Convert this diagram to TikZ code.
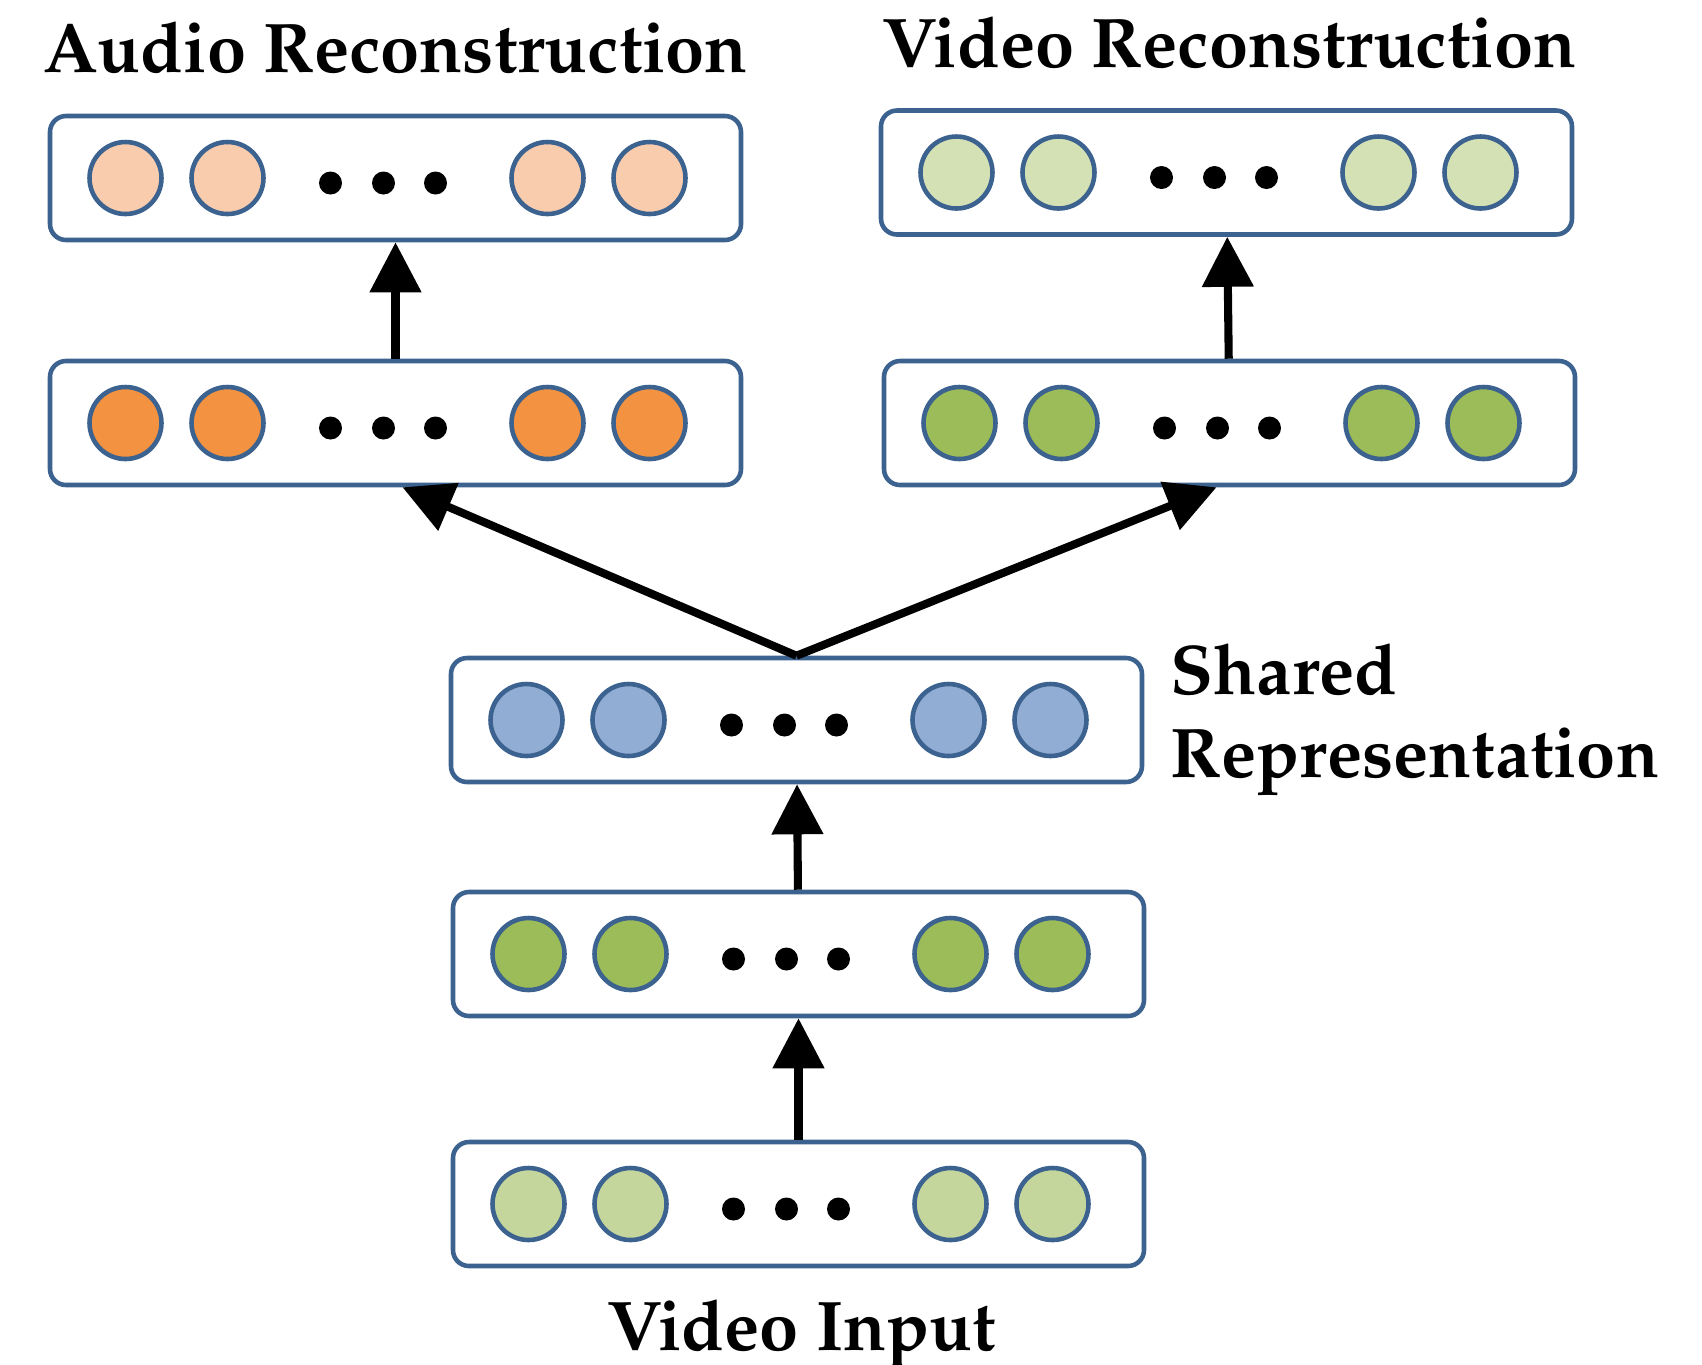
\documentclass[tikz,border=0pt]{standalone}
\usepackage[T1]{fontenc}
\usepackage{mathpazo}
\usepackage{xcolor}
\usepackage{tikz}
\usetikzlibrary{arrows.meta, positioning}
\definecolor{unitblue}{RGB}{60,98,144}
\definecolor{peach}{RGB}{249,204,174}
\definecolor{orangeunit}{RGB}{243,146,64}
\definecolor{palegreen}{RGB}{212,225,180}
\definecolor{inputgreen}{RGB}{196,214,156}
\definecolor{midgreen}{RGB}{155,188,88}
\definecolor{sharedblue}{RGB}{145,173,212}

\begin{document}
\begin{tikzpicture}[
    layer/.style={rectangle, rounded corners=0.16cm, draw=unitblue, line width=1.3pt, fill=white, minimum width=6.91cm, minimum height=1.24cm},
    unit/.style={circle, draw=unitblue, line width=1.3pt, minimum size=0.72cm, inner sep=0pt},
    dotunit/.style={circle, fill=black, minimum size=0.23cm, inner sep=0pt},
    lbl/.style={inner sep=0pt, font=\fontsize{20}{23.6}\selectfont\bfseries},
    arr/.style={-{Triangle[length=0.5cm, width=0.5cm]}, line width=2.3pt, black}
]
\useasboundingbox (0,0) rectangle (17.02,-13.64);

% layers
\node[layer] (arecon) at (3.955,-1.78) {};
\node[layer] (ahid) at (3.955,-4.23) {};
\node[layer] (vrecon) at (12.265,-1.725) {};
\node[layer] (vhid) at (12.295,-4.23) {};
\node[layer] (shared) at (7.965,-7.20) {};
\node[layer] (vfeat) at (7.985,-9.54) {};
\node[layer] (vin) at (7.985,-12.04) {};

% units in each layer
\foreach \lay/\col in {arecon/peach, ahid/orangeunit, vrecon/palegreen, vhid/midgreen, shared/sharedblue, vfeat/midgreen, vin/inputgreen} {
  \foreach \dx [count=\i] in {-2.70,-1.68,1.52,2.54}
    \node[unit, fill=\col] (\lay-u\i) at ([xshift=\dx cm]\lay.center) {};
  \foreach \dx [count=\i] in {-0.65,-0.12,0.40}
    \node[dotunit] (\lay-d\i) at ([xshift=\dx cm, yshift=-0.05cm]\lay.center) {};
}

% labels
\node[lbl, above=0.4cm of arecon] (alabel) {Audio Reconstruction};
\node[lbl, above=0.39cm of vrecon, xshift=0.03cm] (vlabel) {Video Reconstruction};
\node[lbl, right=0.26cm of shared, align=left] (slabel) {Shared\\Representation};
\node[lbl, below=0.31cm of vin, xshift=0.03cm] (inlabel) {Video Input};

% connections
\draw[arr] (vin) -- (vfeat);
\draw[arr] (vfeat) -- (shared);
\draw[arr] (shared.north) -- ([xshift=0.07cm]ahid.south);
\draw[arr] (shared.north) -- ([xshift=-0.13cm]vhid.south);
\draw[arr] (ahid) -- (arecon);
\draw[arr] (vhid) -- (vrecon);

\end{tikzpicture}
\end{document}
